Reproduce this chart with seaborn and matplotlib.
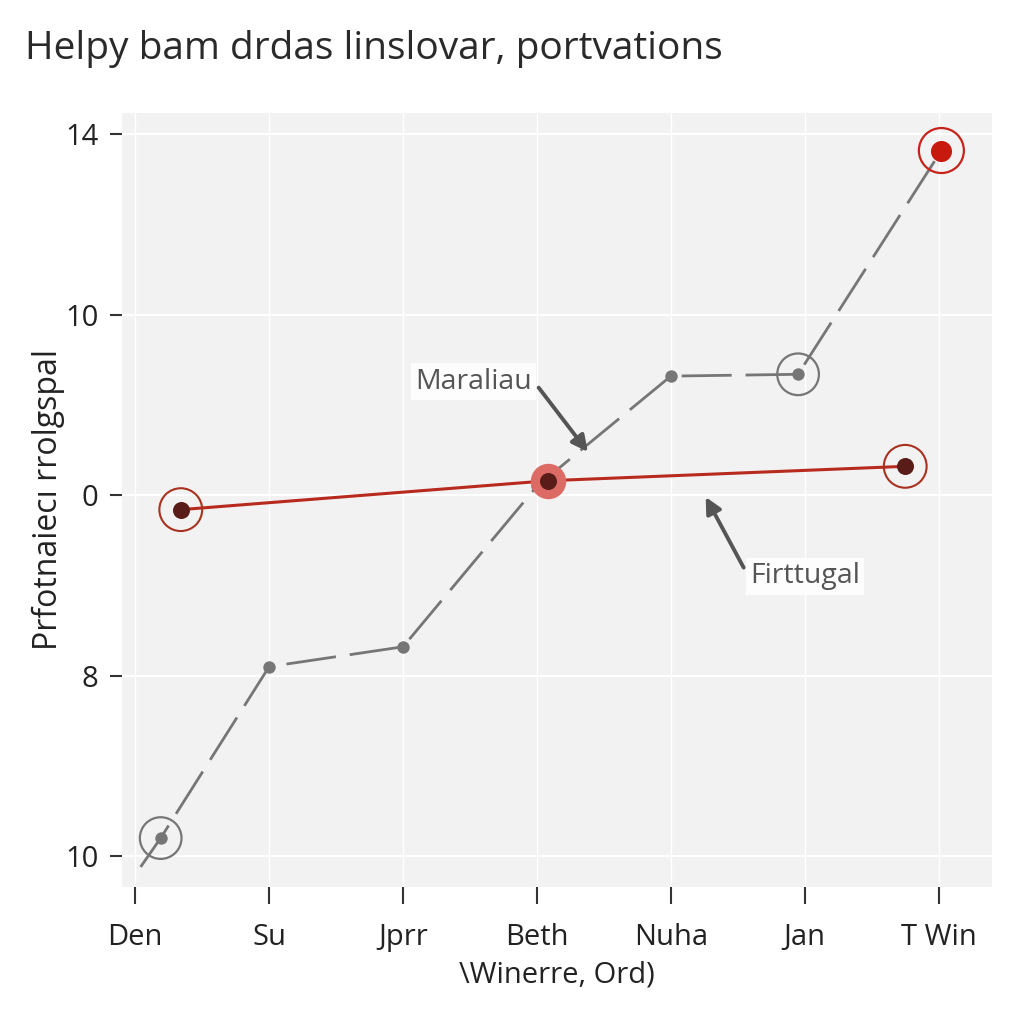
import matplotlib
matplotlib.use("Agg")
import matplotlib.pyplot as plt
import seaborn as sns

# tick positions / labels (labels are as printed in the reference)
x_labels = ["Den", "Su", "Jprr", "Beth", "Nuha", "Jan", "T Win"]
y_labels = ["10", "8", "0", "10", "14"]

# grey dashed series
grey_x = [0.04, 0.19, 1.0, 2.0, 3.0, 4.0, 4.95, 6.02]
grey_y = [-0.06, 0.10, 1.05, 1.16, 2.05, 2.66, 2.67, 3.91]

# red solid series
red_x = [0.34, 3.08, 5.75]
red_y = [1.92, 2.08, 2.16]

sns.set_style("darkgrid", {"axes.facecolor": "#f2f2f2", "grid.color": "white",
                           "xtick.bottom": True, "ytick.left": True})
plt.rcParams["font.family"] = ["Open Sans", "DejaVu Sans"]

fig = plt.figure(figsize=(10.24, 10.24), dpi=100)
ax = fig.add_axes([0.119, 0.134, 0.85, 0.756])

sns.lineplot(x=grey_x, y=grey_y, sort=False, color="#767676", linewidth=2,
             dashes=False, ax=ax, zorder=2)
ax.lines[-1].set_dashes([18, 5])
sns.lineplot(x=red_x, y=red_y, sort=False, color="#b82a1e", linewidth=2.2, ax=ax, zorder=3)

# grey dots
sns.scatterplot(x=grey_x[1:7], y=grey_y[1:7], color="#767676", s=80, linewidth=0, ax=ax, zorder=4)
# open rings around a few grey points
sns.scatterplot(x=[grey_x[1], grey_x[6]], y=[grey_y[1], grey_y[6]], s=900,
                facecolor="none", edgecolor="#767676", linewidth=1.6, ax=ax, zorder=4)

# red markers
sns.scatterplot(x=[red_x[1]], y=[red_y[1]], color="#dc6b66", s=650, linewidth=0, ax=ax, zorder=5)
sns.scatterplot(x=[red_x[0], red_x[2]], y=[red_y[0], red_y[2]], s=950,
                facecolor="none", edgecolor="#a8321f", linewidth=1.5, ax=ax, zorder=5)
sns.scatterplot(x=red_x, y=red_y, color="#5a1c18", s=150, linewidth=0, ax=ax, zorder=6)

# top end point
sns.scatterplot(x=[grey_x[-1]], y=[grey_y[-1]], color="#c8190f", s=230, linewidth=0, ax=ax, zorder=6)
sns.scatterplot(x=[grey_x[-1]], y=[grey_y[-1]], s=1050, facecolor="none",
                edgecolor="#c8231a", linewidth=1.6, ax=ax, zorder=6)

box = dict(boxstyle="square,pad=0.15", fc="white", ec="none", alpha=0.85)
ax.annotate("Maraliau", xy=(3.38, 2.24), xytext=(2.09, 2.63), fontsize=20.5,
            color="#555555", ha="left", va="center", bbox=box, zorder=7,
            arrowprops=dict(arrowstyle="-|>", color="#555555", lw=2.8, mutation_scale=24,
                            shrinkA=3, shrinkB=0, relpos=(1, 0.6)))
ax.annotate("Firttugal", xy=(4.26, 1.99), xytext=(4.59, 1.55), fontsize=20.5,
            color="#555555", ha="left", va="center", bbox=box, zorder=7,
            arrowprops=dict(arrowstyle="-|>", color="#555555", lw=2.8, mutation_scale=24,
                            shrinkA=3, shrinkB=0, relpos=(0, 0.4)))

ax.set_xlim(-0.1, 6.4)
ax.set_ylim(-0.17, 4.12)
ax.set_xticks(range(len(x_labels)))
ax.set_xticklabels(x_labels)
ax.set_yticks(range(len(y_labels)))
ax.set_yticklabels(y_labels)
ax.tick_params(axis="x", length=12, width=1.5, color="#333333", pad=14,
               labelsize=21, labelcolor="#222222")
ax.tick_params(axis="y", length=9, width=1.5, color="#333333", pad=8,
               labelsize=21, labelcolor="#222222")
for sp in ax.spines.values():
    sp.set_visible(False)
ax.grid(True, axis="y", color="white", linewidth=1.5)
ax.grid(True, axis="x", color="white", linewidth=1.0)

ax.set_xlabel("\\Winerre, Ord)", fontsize=21, color="#222222", labelpad=6)
ax.set_ylabel("Prfotnaiecı rrolgspal", fontsize=23, color="#222222", labelpad=0)

fig.text(0.024, 0.952, "Helpy bam drdas linslovar, portvations", fontsize=28,
         color="#2a2a2a", ha="left", va="center", fontweight="medium")

fig.savefig("out.png", dpi=100)
